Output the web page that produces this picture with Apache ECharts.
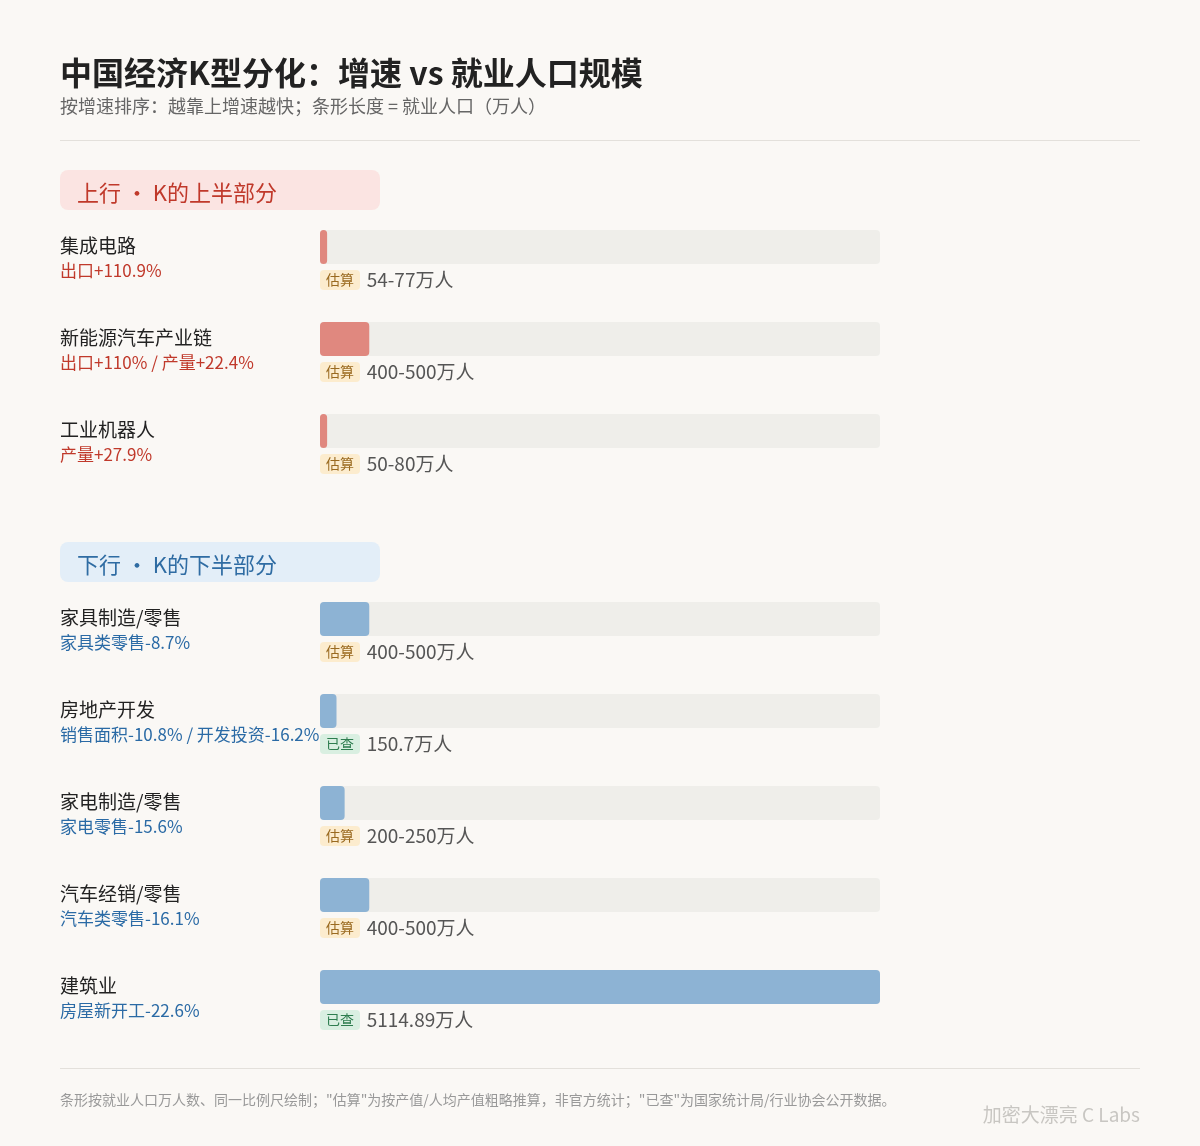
<!DOCTYPE html>
<html><head><meta charset="utf-8">
<script src="https://cdn.jsdelivr.net/npm/echarts@6/dist/echarts.min.js"></script>
<style>html,body{margin:0;background:#faf8f5}#main{width:1200px;height:1146px}</style>
</head><body><div id="main"></div>
<script>
var FONT = '"Noto Sans CJK SC","Noto Sans",sans-serif';

// 上行
var upNames = ['集成电路', '新能源汽车产业链', '工业机器人'];
var upSubs = ['出口+110.9%', '出口+110% / 产量+22.4%', '产量+27.9%'];
var upValues = [65, 450, 65];
var upText = ['54-77万人', '400-500万人', '50-80万人'];
var upTag = ['估算', '估算', '估算'];

// 下行
var downNames = ['家具制造/零售', '房地产开发', '家电制造/零售', '汽车经销/零售', '建筑业'];
var downSubs = ['家具类零售-8.7%', '销售面积-10.8% / 开发投资-16.2%', '家电零售-15.6%', '汽车类零售-16.1%', '房屋新开工-22.6%'];
var downValues = [450, 150.7, 225, 450, 5114.89];
var downText = ['400-500万人', '150.7万人', '200-250万人', '400-500万人', '5114.89万人'];
var downTag = ['估算', '已查', '估算', '估算', '已查'];

var maxVal = 5114.89;

function axisY(idx, names, subs, color) {
  return {
    type: 'category', gridIndex: idx, inverse: true, data: names,
    axisLine: {show: false}, axisTick: {show: false},
    axisLabel: {
      align: 'left', margin: 260, padding: [22, 0, 0, 0],
      formatter: function (v, i) { return '{n|' + v + '}\n{s|' + subs[i] + '}'; },
      rich: {
        n: {fontSize: 19, color: '#222', fontFamily: FONT, lineHeight: 25},
        s: {fontSize: 17, color: color, fontFamily: FONT, lineHeight: 24}
      }
    }
  };
}

function barSeries(idx, values, texts, tags, color) {
  return {
    type: 'bar', xAxisIndex: idx, yAxisIndex: idx, barWidth: 34,
    data: values,
    itemStyle: {color: color, borderRadius: 4},
    showBackground: true,
    backgroundStyle: {color: '#efeeea', borderRadius: 4},
    label: {
      show: true, position: [0, 40],
      formatter: function (p) {
        var t = tags[p.dataIndex] == '估算' ? 'g' : 'y';
        return '{' + t + '|' + tags[p.dataIndex] + '}  {v|' + texts[p.dataIndex] + '}';
      },
      rich: {
        g: {backgroundColor: '#fcecce', color: '#9a6a20', fontSize: 14, padding: [3, 6, 3, 6], borderRadius: 4, fontFamily: FONT},
        y: {backgroundColor: '#d9efe1', color: '#2e7d4f', fontSize: 14, padding: [3, 6, 3, 6], borderRadius: 4, fontFamily: FONT},
        v: {color: '#555', fontSize: 19, fontFamily: FONT}
      }
    }
  };
}

var chart = echarts.init(document.getElementById('main'));
chart.setOption({
  backgroundColor: '#faf8f5',
  animation: false,
  grid: [
    {left: 320, width: 560, top: 201, height: 276},
    {left: 320, width: 560, top: 573, height: 460}
  ],
  xAxis: [
    {type: 'value', gridIndex: 0, min: 0, max: maxVal, show: false},
    {type: 'value', gridIndex: 1, min: 0, max: maxVal, show: false}
  ],
  yAxis: [
    axisY(0, upNames, upSubs, '#c0392b'),
    axisY(1, downNames, downSubs, '#2a6aa5')
  ],
  series: [
    barSeries(0, upValues, upText, upTag, '#e0887f'),
    barSeries(1, downValues, downText, downTag, '#8db3d4')
  ],
  graphic: [
    {type: 'text', left: 60, top: 57, style: {text: '中国经济K型分化：增速 vs 就业人口规模', fontSize: 32, fontWeight: 'bold', fill: '#222', fontFamily: FONT}},
    {type: 'text', left: 60, top: 97, style: {text: '按增速排序：越靠上增速越快；条形长度 = 就业人口（万人）', fontSize: 18, fill: '#666', fontFamily: FONT}},
    {type: 'rect', shape: {x: 60, y: 140, width: 1080, height: 1}, style: {fill: '#e3e0db'}},
    {type: 'rect', shape: {x: 60, y: 170, width: 320, height: 40, r: 8}, style: {fill: '#fbe4e2'}},
    {type: 'text', left: 77, top: 182, style: {text: '上行 · K的上半部分', fontSize: 22, fill: '#c0392b', fontFamily: FONT}},
    {type: 'rect', shape: {x: 60, y: 542, width: 320, height: 40, r: 8}, style: {fill: '#e3eef8'}},
    {type: 'text', left: 77, top: 554, style: {text: '下行 · K的下半部分', fontSize: 22, fill: '#2f6ca3', fontFamily: FONT}},
    {type: 'rect', shape: {x: 60, y: 1068, width: 1080, height: 1}, style: {fill: '#e3e0db'}},
    {type: 'text', left: 60, top: 1093, style: {text: '条形按就业人口万人数、同一比例尺绘制；"估算"为按产值/人均产值粗略推算，非官方统计；"已查"为国家统计局/行业协会公开数据。', fontSize: 14, fill: '#999', fontFamily: FONT}},
    {type: 'text', right: 60, top: 1105, style: {text: '加密大漂亮 C Labs', fontSize: 19, fill: '#c8c6c2', fontFamily: FONT}}
  ]
});
</script></body></html>
